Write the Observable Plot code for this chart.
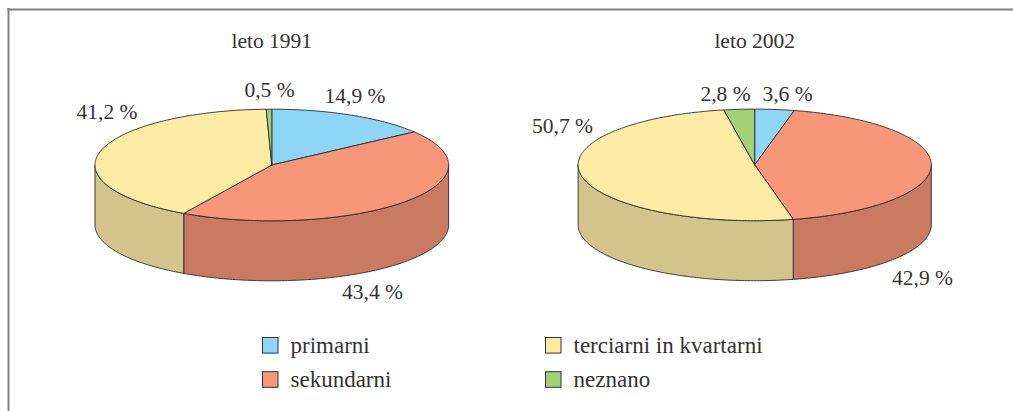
<!DOCTYPE html>
<html><head><meta charset="utf-8">
<script src="https://cdn.jsdelivr.net/npm/d3@7"></script>
<script src="https://cdn.jsdelivr.net/npm/@observablehq/plot@0.6"></script>
<style>html,body{margin:0;padding:0;background:#fff;overflow:hidden}svg{display:block}</style>
</head><body><div id="chart"></div>
<script>
const categories = ["primarni", "sekundarni", "terciarni in kvartarni", "neznano"];
const years = ["leto 1991", "leto 2002"];
const values1991 = [14.9, 43.4, 41.2, 0.5];
const values2002 = [3.6, 42.9, 50.7, 2.8];

const topColors = ["#8dd6f8", "#f79678", "#feeba6", "#a3d176"];
const sideColors = ["#7fb8d0", "#c97a61", "#d3c48c", "#86a862"];

// pie geometry: centre, radii, extrusion depth
const pies = [
  {title: years[0], values: values1991, cx: 271.3, cy: 164.5, rx: 176.8, ry: 55.8, depth: 60},
  {title: years[1], values: values2002, cx: 754.2, cy: 164.4, rx: 176.6, ry: 55.8, depth: 60}
];
// label centres (same order as the values)
const labelSpots = [
  [[354.5, 96], [372, 292], [106.5, 112], [269, 90]],
  [[787, 94], [922, 278], [562, 126], [725, 94]]
];

const pt = (p, deg, dy = 0) => {
  const a = deg * Math.PI / 180;
  return {x: p.cx + p.rx * Math.sin(a), y: p.cy - p.ry * Math.cos(a) + dy};
};
const arc = (p, a0, a1, dy = 0) => {
  const n = Math.max(2, Math.ceil(Math.abs(a1 - a0)));
  return d3.range(n + 1).map(i => pt(p, a0 + (a1 - a0) * i / n, dy));
};

const sides = [], tops = [], labels = [];
pies.forEach((p, pi) => {
  let cum = 0;
  p.values.forEach((v, i) => {
    const a0 = cum * 3.6, a1 = (cum + v) * 3.6;
    cum += v;
    const s0 = Math.max(a0, 90), s1 = Math.min(a1, 270);
    if (s1 > s0) {
      const ring = [...arc(p, s0, s1), ...arc(p, s1, s0, p.depth)];
      ring.push(ring[0]);
      ring.forEach(q => sides.push({...q, id: `s${pi}-${i}`, key: categories[i] + " side"}));
    }
    const ring = [{x: p.cx, y: p.cy}, ...arc(p, a0, a1), {x: p.cx, y: p.cy}];
    ring.forEach(q => tops.push({...q, id: `t${pi}-${i}`, key: categories[i]}));
    const [x, y] = labelSpots[pi][i];
    labels.push({x, y, text: v.toFixed(1).replace(".", ",") + " %"});
  });
});

const titles = pies.map(p => ({x: p.cx, y: 41, text: p.title}));
const legend = categories.map((c, i) => ({
  key: c,
  x: i < 2 ? 262.5 : 545.5,
  y: i % 2 === 0 ? 345.3 : 379.5
}));

const serif = "Liberation Serif";
const ink = "#333333";
const chart = Plot.plot({
  width: 1013, height: 411, margin: 0,
  x: {domain: [0, 1013], range: [0, 1013], axis: null},
  y: {domain: [0, 411], range: [0, 411], axis: null},
  color: {
    domain: [...categories, ...categories.map(c => c + " side")],
    range: [...topColors, ...sideColors]
  },
  marks: [
    Plot.ruleX([8], {y1: 8, y2: 411, stroke: "#808080", strokeWidth: 2}),
    Plot.ruleY([9], {x1: 7, x2: 1013, stroke: "#808080", strokeWidth: 2}),
    Plot.line(sides, {x: "x", y: "y", z: "id", fill: "key", stroke: "#2b2b2b", strokeWidth: 0.9, curve: "linear"}),
    Plot.line(tops, {x: "x", y: "y", z: "id", fill: "key", stroke: "#2b2b2b", strokeWidth: 0.9, curve: "linear"}),
    Plot.text(titles, {x: "x", y: "y", text: "text", fontFamily: serif, fontSize: 21.5, fill: ink}),
    Plot.text(labels, {x: "x", y: "y", text: "text", fontFamily: serif, fontSize: 21.5, fill: ink}),
    Plot.rect(legend, {x1: "x", x2: d => d.x + 15.5, y1: d => d.y - 7.8, y2: d => d.y + 7.8, fill: "key", stroke: "#333", strokeWidth: 1}),
    Plot.text(legend, {x: d => d.x + 27.5, y: "y", text: "key", textAnchor: "start", fontFamily: serif, fontSize: 23, fill: ink})
  ]
});
document.getElementById("chart").append(chart);
</script></body></html>
